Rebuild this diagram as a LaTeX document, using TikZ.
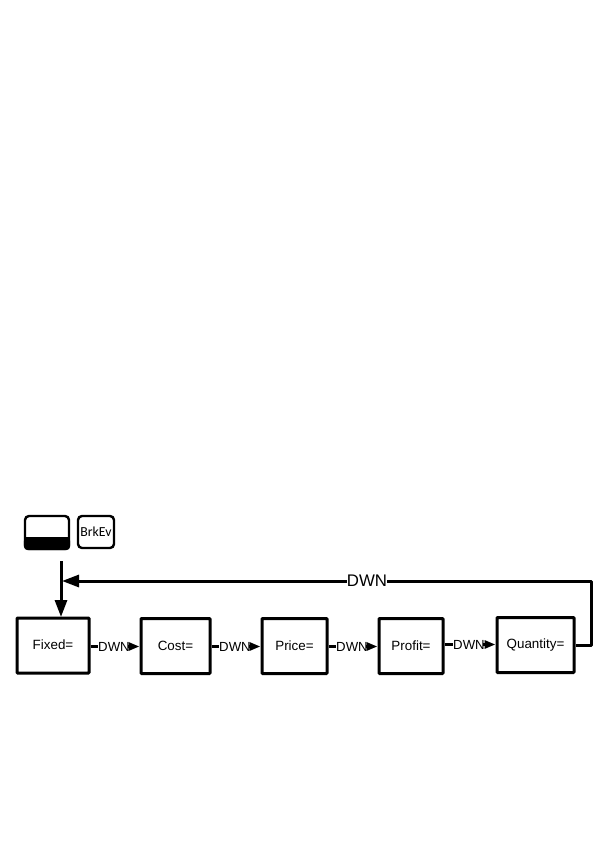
\documentclass[tikz,border=0pt]{standalone}
\usepackage{fontspec}
\setmainfont{Liberation Sans}
\newfontfamily\keyfont{Carlito}
\usetikzlibrary{arrows.meta,calc}
\tikzset{
  x=1pt,y=-1pt,
  box/.style={draw=black,line width=3pt,rounded corners=0.8pt,minimum height=55pt,inner sep=0pt,font=\fontsize{13.4}{15}\selectfont},
  keybox/.style={draw=black,line width=2.4pt,rounded corners=4pt,inner sep=0pt},
  conn/.style={draw=black,line width=3pt},
  tip/.style={-{Triangle[length=11pt,width=8pt]}},
  bigtip/.style={-{Triangle[length=17pt,width=12pt]}},
  lab/.style={inner sep=0pt,font=\fontsize{13.2}{15}\selectfont},
  biglab/.style={inner sep=0pt,font=\fontsize{16.8}{18}\selectfont}
}
\begin{document}
\begin{tikzpicture}
\useasboundingbox (0,0) rectangle (607,851);
\node[box,minimum width=72pt] (fixed) at (53,645.5) {\raisebox{1pt}{Fixed=}};
\node[box,minimum width=69pt] (cost) at (175.5,646) {\raisebox{-1pt}{Cost=}};
\node[box,minimum width=65pt] (price) at (294.5,646) {\raisebox{-1pt}{Price=}};
\node[box,minimum width=64pt] (profit) at (411,646) {\raisebox{-1pt}{Profit=}};
\node[box,minimum width=77pt] (quantity) at (535.5,645) {\raisebox{0pt}{Quantity=}};
\node[keybox,minimum width=44pt,minimum height=33pt] (shift) at (47,532.5) {};
\fill[black,rounded corners=4pt] (shift.west |- 0,537) -- (shift.south west) -- (shift.south east) -- (shift.east |- 0,537) -- cycle;
\fill[black] (shift.west |- 0,537) rectangle ($(shift.east |- 0,537)+(0,5)$);
\node[keybox,minimum width=36pt,minimum height=32pt,font=\keyfont\fontsize{13.8}{15}\selectfont] (brkev) at (96,532) {\raisebox{-1pt}{BrkEv}};
\coordinate (start) at (61,561);
\coordinate (fixedtop) at (61,617);
\coordinate (turnA) at (591,581);
\coordinate (turnB) at (591,645);
\coordinate (backend) at (62,581);
\node[biglab] (dwnback) at (367,581) {DWN};
\node[lab] (l1) at (114,646.5) {DWN};
\node[lab] (l2) at (235,646.5) {DWN};
\node[lab] (l3) at (352,646.5) {DWN};
\node[lab] (l4) at (469,644.5) {DWN};
\draw[conn,bigtip] (start) -- (fixedtop);
\draw[conn,line join=round] (quantity.east |- turnB) -- (turnB) -- (turnA) -- (dwnback.east);
\draw[conn,bigtip] (dwnback.west) -- (backend);
\draw[conn] (fixed.east |- l1) -- (l1.west);
\draw[conn,tip] ($(l1.east)+(-2,0)$) -- (cost.west |- l1);
\draw[conn] (cost.east |- l2) -- (l2.west);
\draw[conn,tip] ($(l2.east)+(-2,0)$) -- (price.west |- l2);
\draw[conn] (price.east |- l3) -- (l3.west);
\draw[conn,tip] ($(l3.east)+(-2,0)$) -- (profit.west |- l3);
\draw[conn] (profit.east |- l4) -- (l4.west);
\draw[conn,tip] ($(l4.east)+(-2,0)$) -- (quantity.west |- l4);
\end{tikzpicture}
\end{document}
